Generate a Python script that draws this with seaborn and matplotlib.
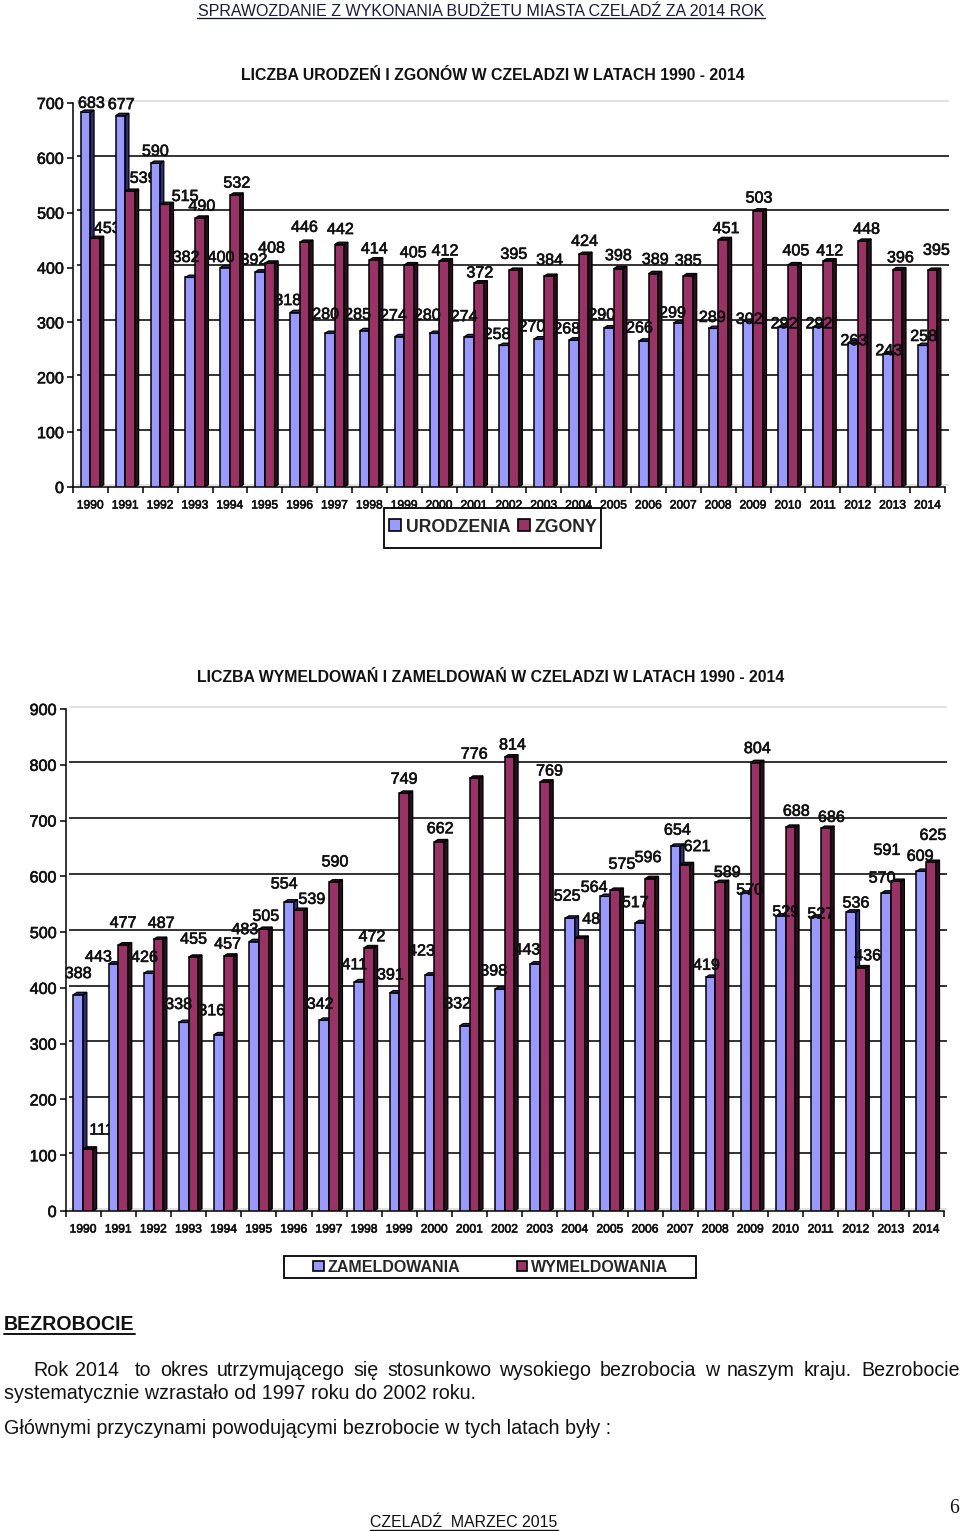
import numpy as np
import pandas as pd
import seaborn as sns
import matplotlib.pyplot as plt
import matplotlib.patheffects as pe
from matplotlib.lines import Line2D
from matplotlib.patches import Polygon, Rectangle

years = [str(y) for y in range(1990, 2015)]

# births / deaths
urodzenia = [683, 677, 590, 382, 400, 392, 318, 280, 285, 274, 280, 274, 258,
             270, 268, 290, 266, 299, 289, 302, 292, 292, 263, 243, 258]
zgony = [453, 539, 515, 490, 532, 408, 446, 442, 414, 405, 412, 372, 395,
         384, 424, 398, 389, 385, 451, 503, 405, 412, 448, 396, 395]

# registrations in / out
zameldowania = [388, 443, 426, 338, 316, 483, 554, 342, 411, 391, 423, 332, 398,
                443, 525, 564, 517, 654, 419, 570, 529, 527, 536, 570, 609]
wymeldowania = [111, 477, 487, 455, 457, 505, 539, 590, 472, 749, 662, 776, 814,
                769, 489, 575, 596, 621, 589, 804, 688, 686, 436, 591, 625]

# label nudges in pixels from the top of each bar (the labels were hand placed)
ur_dx = [6, 1, 0, -4, -4, -6, -7, -4, -7, -6, -7, -5, -7, -7, -7, -7, -4, -6, -1, 1, 1, 1, 1, 1, 1]
ur_up = [9, 11, 12, 20, 10, 12, 12, 19, 16, 21, 18, 20, 11, 12, 11, 13, 13, 10, 11, 2, 3, 3, 2, 3, 9]
zg_dx = [12, 13, 20, 2, 2, 2, 0, 1, 0, 4, 1, 1, 0, 1, 1, 0, 2, 0, 3, 1, 3, 2, 4, 3, 4]
zg_up = [10, 13, 8, 12, 12, 15, 15, 15, 11, 12, 10, 10, 16, 16, 13, 13, 14, 15, 11, 13, 14, 10, 12, 12, 20]
za_dx = [0, -15, -4, -5, -7, -9, -5, -4, -5, -4, -8, -7, -6, -8, -3, -11, -5, 2, -4, 4, 5, 5, 5, -4, -1]
za_up = [21, 7, 16, 18, 24, 12, 18, 16, 17, 18, 24, 22, 18, 14, 22, 9, 20, 16, 12, 3, 4, 3, 9, 15, 15]
wy_dx = [13.5, 0, 3, 0, -1, 2, 13, 1, 3, 0, 1, 0, 3, 5, 16, 7, -2, 12, 7, 2, 6, 6, 7, -9, 2]
wy_up = [19, 22, 16, 18, 12, 13, 11, 20, 11, 14, 13, 24, 12, 11, 19, 26, 21, 18, 10, 14, 16, 11, 12, 31, 27]

W, H = 960, 1531
BLUE, MAROON = "#9999FF", "#993366"
BLUE_DARK, MAROON_DARK = "#2E2E78", "#2A0F1E"
HEAVY = [pe.withStroke(linewidth=0.45, foreground="#111111")]  # the scan makes the digits look fat

sns.set_theme(style="white")
plt.rcParams["font.family"] = ["Liberation Sans", "DejaVu Sans"]

fig = plt.figure(figsize=(W / 100, H / 100), dpi=100)


def add_text(x, y, s, **kw):
    return fig.text(x / W, 1 - y / H, s, va="baseline", color=kw.pop("color", "#111111"), **kw)


def underline(x0, x1, y, lw=1.0, color="#111111"):
    fig.add_artist(Line2D([x0 / W, x1 / W], [1 - y / H, 1 - y / H], color=color, lw=lw))


def draw_chart(rect, ymax, front, back, names, front_off, back_off):
    left, right, top, bottom = rect
    ax = fig.add_axes([left / W, 1 - bottom / H, (right - left) / W, (bottom - top) / H])
    df = pd.DataFrame({
        "year": years * 2,
        "value": front + back,
        "series": [names[0]] * len(years) + [names[1]] * len(years),
    })
    sns.barplot(data=df, x="year", y="value", hue="series", palette=[BLUE, MAROON],
                width=0.556, saturation=1, edgecolor="black", linewidth=1.1, ax=ax)
    ax.set_xlim(-0.5, len(years) - 0.5)
    ax.set_ylim(0, ymax)
    ax.set_xlabel("")
    ax.set_ylabel("")

    px_x = (right - left) / len(years)
    px_y = (bottom - top) / ymax
    dx, dy = 3.6 / px_x, 2.3 / px_y

    # back wall gridlines, shifted like the depth of the bars
    ticks = np.arange(0, ymax + 1, 100)
    for t in ticks:
        grey = t == 0 or t == ymax
        ax.hlines(t + dy, -0.5 + dx, len(years) - 0.5 + dx, color="#DDDDDD" if grey else "#111111",
                  lw=1.2, zorder=1, clip_on=False)

    # every year sits on top of the labels of the year before it
    for k, (cont, dark, off) in enumerate(zip(ax.containers, [BLUE_DARK, MAROON_DARK], [front_off, back_off])):
        for i, bar in enumerate(cont):
            z = 3 + i + k * 0.2
            bar.set_zorder(z)
            x0, w, h = bar.get_x(), bar.get_width(), bar.get_height()
            side = [(x0 + w, 0), (x0 + w + dx, dy), (x0 + w + dx, h + dy), (x0 + w, h)]
            lid = [(x0, h), (x0 + dx, h + dy), (x0 + w + dx, h + dy), (x0 + w, h)]
            for pts in (side, lid):
                ax.add_patch(Polygon(pts, closed=True, facecolor=dark, edgecolor="black",
                                     lw=0.9, zorder=z + 0.05))
            ax.annotate(str(int(h)), xy=(x0 + w / 2, h),
                        xytext=(off[0][i] * 0.72, off[1][i] * 0.72), textcoords="offset points",
                        ha="center", va="center", fontsize=11.6, color="#111111", zorder=3 + i + 0.5,
                        path_effects=HEAVY)

    sns.despine(ax=ax)
    for s in ("left", "bottom"):
        ax.spines[s].set_linewidth(1.1)
        ax.spines[s].set_color("black")
        ax.spines[s].set_zorder(2)
    ax.set_yticks(ticks)
    ax.tick_params(axis="y", length=4.5, width=1.1, pad=2, labelsize=11.6, left=True, color="black", labelcolor="#111111")
    ax.set_xticks(np.arange(-0.5, len(years)), minor=True)
    ax.tick_params(axis="x", which="minor", length=4.5, width=1.1, color="black", bottom=True)
    ax.tick_params(axis="x", which="major", length=0, pad=9, labelsize=8.7, labelcolor="#111111")
    for lab in ax.get_xticklabels() + ax.get_yticklabels():
        lab.set_path_effects(HEAVY)
    return ax


def place_legend(ax, center, box, fontsize, size_em, colspace):
    sns.move_legend(ax, "center", bbox_to_anchor=(center[0] / W, 1 - center[1] / H),
                    bbox_transform=fig.transFigure, ncol=2, title=None, frameon=False,
                    borderpad=0, borderaxespad=0, handlelength=size_em, handleheight=size_em,
                    handletextpad=0.25, columnspacing=colspace,
                    prop={"size": fontsize, "weight": "bold"})
    for h in ax.get_legend().legend_handles:
        h.set_edgecolor("black")
        h.set_linewidth(1.2)
    ax.get_legend().get_frame().set_visible(False)
    x0, x1, y0, y1 = box
    fig.add_artist(Rectangle((x0 / W, 1 - y1 / H), (x1 - x0) / W, (y1 - y0) / H,
                             fill=False, edgecolor="black", lw=1.3, transform=fig.transFigure))


ax1 = draw_chart((73, 945, 103, 487), 700, urodzenia, zgony, ["URODZENIA", "ZGONY"],
                 (ur_dx, ur_up), (zg_dx, zg_up))
place_legend(ax1, (493.5, 527), (384, 601, 508, 548), 12.7, 0.68, 0.45)

ax2 = draw_chart((65.7, 943.7, 709, 1211), 900, zameldowania, wymeldowania, ["ZAMELDOWANIA", "WYMELDOWANIA"],
                 (za_dx, za_up), (wy_dx, wy_up))
place_legend(ax2, (491, 1267), (284, 696, 1256, 1278), 11.5, 0.65, 3.55)

# page text
add_text(481.5, 16, "SPRAWOZDANIE Z WYKONANIA BUDŻETU MIASTA CZELADŹ ZA 2014 ROK", ha="center", fontsize=11.5, color="#1A1A3A")
underline(197, 765, 18, color="#1A1A3A")
add_text(492.5, 80, "LICZBA URODZEŃ I ZGONÓW W CZELADZI W LATACH 1990 - 2014", ha="center", fontsize=11.45, fontweight="bold")
add_text(490.5, 682, "LICZBA WYMELDOWAŃ I ZAMELDOWAŃ W CZELADZI W LATACH 1990 - 2014", ha="center", fontsize=11.45, fontweight="bold")

add_text(4, 1330, "BEZROBOCIE", fontsize=14.1, fontweight="bold")
underline(4, 135, 1333.5, lw=1.4)

# first line is justified in the source, so its words are set one by one
line_words = ["Rok", "2014", "to", "okres", "utrzymującego", "się", "stosunkowo", "wysokiego",
              "bezrobocia", "w", "naszym", "kraju.", "Bezrobocie"]
line_x = [33, 75, 135, 160, 217, 353, 387, 499, 600, 705, 727, 804, 861]
for wx, word in zip(line_x, line_words):
    add_text(wx, 1376.5, word, fontsize=14.1)
add_text(4, 1399, "systematycznie wzrastało od 1997 roku do 2002 roku.", fontsize=14.2)
add_text(4, 1434, "Głównymi przyczynami powodującymi bezrobocie w tych latach były :", fontsize=14.2)

add_text(370, 1527, "CZELADŹ  MARZEC 2015", fontsize=11.4)
underline(370, 558, 1530)
add_text(949, 1513, "6", fontsize=14.2, family="Liberation Serif")

fig.savefig("out.png", dpi=100)
